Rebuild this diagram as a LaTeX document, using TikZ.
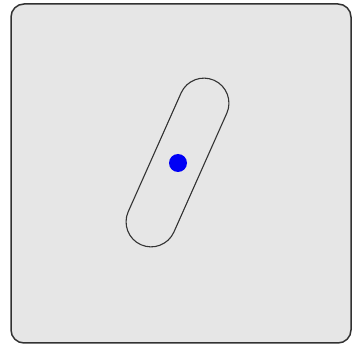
\documentclass[tikz,border=0pt]{standalone}
\usepackage{xcolor}
\definecolor{panel}{RGB}{230,230,230}
\definecolor{edge}{RGB}{50,50,50}
\definecolor{marker}{RGB}{0,0,245}
\usepackage{tikz}
\usetikzlibrary{
    shapes.misc,
    positioning
}

\begin{document}
\begin{tikzpicture}[
        x=1pt, y=1pt,
        panelbox/.style={rectangle, rounded corners=13pt, draw=edge, line width=1.5pt, fill=panel, minimum width=340pt, minimum height=339pt, inner sep=0pt},
        slot/.style={rounded rectangle, draw=black!80, line width=1.1pt, minimum width=180pt, minimum height=50pt, inner sep=0pt, rotate=66},
        dot/.style={circle, fill=marker, minimum size=18pt, inner sep=0pt}
    ]
        \useasboundingbox (0,0) rectangle (357,346);
        \node[panelbox] (panel) at (181,172.5) {};
        \node[slot] (slider) at (177.5,183.5) {};
        \node[dot] (pivot) at (178,183) {};
    \end{tikzpicture}
\end{document}
